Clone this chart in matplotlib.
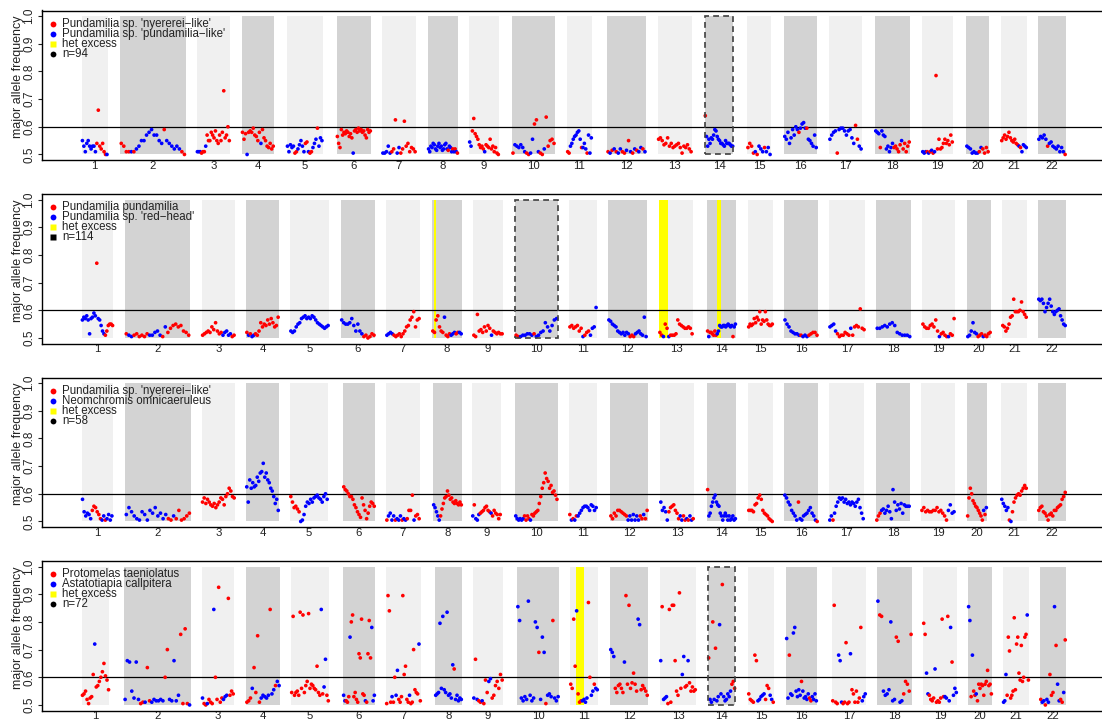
import numpy as np
import matplotlib
matplotlib.use("Agg")
import matplotlib.pyplot as plt
from matplotlib.patches import Rectangle

plt.rcParams["font.family"] = ["Liberation Sans", "DejaVu Sans"]

RED = "#FF0000"
BLUE = "#0000FF"
LIGHT = "#F0F0F0"
DARK = "#D3D3D3"
YELLOW = "#FFFF00"

CHROMS = [str(i) for i in range(1, 23)]

# ── chromosome extents (cumulative plot position) per panel ────────────────
P1_START = [81.7, 120, 196.7, 241.7, 286.7, 336.7, 382, 428, 469, 512, 567, 607, 657.7, 704.7, 747, 784, 829, 875, 922, 966, 1001, 1038]
P1_END = [107.7, 185.7, 230, 274, 322.7, 371, 416, 458, 499, 555, 592, 646, 692, 733.3, 771, 817, 862, 910, 953, 989, 1027, 1066]
P2_START = [81.7, 125, 201.7, 246, 290, 340.7, 386, 432, 473, 515, 569, 608, 659, 707, 748, 784, 829, 876, 922, 967, 1002, 1038]
P2_END = [113.3, 190, 235, 279, 329, 375, 420, 462, 503, 557.7, 597, 647, 693, 736, 773, 818, 865, 911, 955, 991, 1027, 1066]
P3_START = [81.7, 125, 201.7, 246, 290, 343, 386, 433, 472, 515, 569, 610, 660, 707, 748, 784, 829, 876, 921, 967, 1001, 1038]
P3_END = [112.7, 190.7, 235, 279, 328, 375, 420, 462, 501, 557.7, 597, 648, 694, 736, 773, 818, 864, 910, 955, 987, 1027, 1066]
P4_START = [81.7, 124, 201.7, 246, 291, 343, 386, 435, 473, 517, 570, 610, 660, 708, 748, 786, 832, 877, 923, 968, 1003, 1040]
P4_END = [109.3, 190.7, 234, 280, 329, 375, 421, 462, 503, 559, 598, 648, 696, 735.3, 774, 817, 866, 912, 957, 992, 1029, 1066]

# ── major allele frequency (x100) per window, in chromosome order ──────────
# colour string: r = first species, b = second species
P1_Y = [
    [55, 53, 51, 54, 55, 53, 52, 53, 53, 51, 54, 66, 53, 52, 54, 51, 50, 50],
    [54, 53, 51, 51, 51, 51, 52, 53, 55, 55, 57, 58, 59, 57, 57, 55, 54, 59, 55, 54, 53, 52, 53, 52, 51, 50],
    [51, 51, 51, 50.5, 51, 51, 53, 57, 55, 55, 58, 57, 56, 58.5, 55, 54, 57, 55, 58, 73, 56, 57, 60, 55],
    [58, 55.5, 57.5, 50, 58, 58.5, 58, 59.5, 57, 56.5, 55, 58, 54, 59, 56, 55, 53, 52.5, 54, 52, 53],
    [53, 51, 53.5, 52.5, 53, 50.5, 51, 52, 53.5, 55, 53, 51, 54, 54.5, 51, 50.5, 51, 52.5, 54, 55.5, 59.5, 53, 56, 55],
    [56.5, 54, 52.5, 59, 57, 58, 57.5, 58.5, 58, 56.5, 57.5, 56, 50.5, 58.5, 59, 58, 59.5, 58.5, 59, 58, 58.5, 57, 56, 59, 58, 58.5],
    [50.5, 50.5, 51, 53, 50.5, 51, 52, 62.5, 50.5, 52.5, 50.5, 52, 62, 53, 54, 51, 52.5, 52, 51],
    [52, 51, 53, 52.5, 54, 53.5, 52, 51.5, 53, 54, 52.5, 53, 51.5, 52, 53.5, 54, 52, 51.5, 53, 52.5, 51, 52, 51, 52, 51, 50.5],
    [54.5, 53, 58.5, 63, 57.5, 56.5, 55.5, 53.5, 52.5, 53, 52, 51, 53.5, 53, 52.5, 55.5, 52, 53, 51, 52.5, 50.5, 50],
    [50.5, 53.5, 53, 52.5, 53.5, 52.5, 51, 50.5, 50, 50.5, 55.5, 61, 62.5, 51, 50.5, 50, 52, 63.5, 53, 55, 55.5, 54],
    [51, 50.5, 53, 54, 55.5, 56.5, 57, 58, 58.5, 55.5, 52.5, 52.5, 54, 52, 50.5, 57, 50.5, 56],
    [51, 50.5, 51.5, 52, 51, 50.5, 52, 51, 50.5, 51.5, 55, 51, 50.5, 52, 51.5, 51, 52.5, 52, 51],
    [55.5, 56, 55, 53.5, 54, 56, 53, 54, 52.5, 53, 53.5, 54, 52.5, 50.5, 53, 52.5, 53.5, 52, 51],
    [64, 56.5, 53, 55.5, 54, 56, 55.5, 57, 59, 58.5, 56.5, 55.5, 55, 54, 54, 53.5, 53, 55, 54, 54, 54, 53.5, 53, 53],
    [52.5, 54, 53, 50.5, 51, 50, 53, 52, 51, 52.5, 51, 52.5, 50],
    [56.5, 55.5, 58, 54, 56, 59, 57, 60, 59, 58, 59.5, 61, 61.5, 59.5, 59.5, 55.5, 55, 54, 53, 57, 52.5],
    [55.5, 57, 58, 58.5, 50.5, 59, 59.5, 59.5, 58.5, 57, 58.5, 59, 56, 54, 60.5, 55.5, 53, 52],
    [58.5, 58, 57.5, 52.5, 58.5, 57, 56.5, 52, 53, 51, 52.5, 54, 52.5, 53, 52, 51, 53.5, 55, 52, 54, 51, 53, 54.5],
    [51, 50.5, 51, 51, 50.5, 51, 51.5, 50.5, 51, 78.5, 52, 55.5, 52, 52.5, 54, 55.5, 54, 55, 53.5, 57, 54.5],
    [53, 52.5, 52, 50.5, 51, 50.5, 50.5, 51, 52.5, 52, 50.5, 52.5, 51],
    [55, 56, 57, 55.5, 56.5, 58, 56, 55, 54.5, 55.5, 54, 53.5, 53, 52.5, 51, 53.5, 53, 52.5],
    [55.5, 56.5, 56, 57, 55.5, 53, 54, 54.5, 53, 52.5, 52, 53, 51, 52.5, 51, 50],
]
P1_C = [
    "bbbbbbbbbbrrrrrrrb", "rrrrbrbbbbbbbbbbbrbbbbbbrr", "bbbrrrb" + "r" * 17, "rrrbrrrrrrrrbrrrrrrrr",
    "bbbbbrrbbbbbrrbrrbbbrbbb", "r" * 12 + "b" + "r" * 13, "bbbbbrrrbbrrrrrrrrr", "b" * 17 + "rbbbrbrbr",
    "bb" + "r" * 9 + "b" + "r" * 10, "rbbbbbbrrbbrrbrrbrrrrr", "rrbbbbbbbbrbbbrbbb", "rbrbrbbrrbrbrbrbbrb",
    "r" * 19, "r" + "b" * 23, "rrrrbrbbbrbbb", "b" * 9 + "r" + "b" * 4 + "r" + "b" * 6,
    "bbbbr" + "b" * 9 + "rrbb", "bbbr" + "b" * 8 + "r" * 5 + "b" + "r" * 5, "bbbrbrbrb" + "r" * 12,
    "bbbbbbbrbrrrr", "r" * 12 + "brbbbb", "bbbbbr" + "b" * 9 + "r",
]

P2_Y = [
    [56.5, 57.5, 57, 58, 56.5, 51.5, 57, 57.5, 59, 58, 77, 57, 56.5, 54.5, 52.5, 51.5, 51, 52.5, 54.5, 55, 55, 54.5],
    [51.5, 51, 50.5, 51, 51.5, 50.5, 51, 50.5, 51.5, 51, 51, 52, 52.5, 51, 50.5, 54, 52, 53.5, 54.5, 55, 54, 54.5, 52.5, 52, 51],
    [51, 51.5, 52, 52.5, 52, 54, 53, 55.5, 52.5, 51.5, 52, 51, 52, 52.5, 51, 51.5, 50.5, 51],
    [52, 51, 51.5, 50.5, 51, 51.5, 51, 52.5, 55.5, 54, 55, 54.5, 56.5, 55, 57, 55.5, 54, 54.5, 57.5],
    [52.5, 52, 52.5, 54, 55, 55.5, 57, 57.5, 58, 57, 57.5, 57, 58, 57.5, 56.5, 55.5, 55, 54.5, 54, 53.5, 54, 54.5],
    [56.5, 55.5, 55, 55, 55.5, 57, 54.5, 52.5, 55, 52.5, 51.5, 50.5, 51, 50, 50.5, 51.5, 51],
    [51, 51.5, 52, 51.5, 51, 50.5, 51, 51.5, 50.5, 51.5, 52.5, 54, 54.5, 56.5, 57.5, 59.5, 54, 56.5, 57],
    [52.5, 52, 56.5, 58, 54, 52.5, 52, 57.5, 51, 50.5, 51.5, 51, 51.5, 52, 51.5, 52, 52, 51.5],
    [51, 50.5, 58.5, 52.5, 53, 52, 54, 52.5, 54.5, 53.5, 51, 52.5, 52, 51.5, 52, 51.5, 51.5],
    [51, 50.5, 50.5, 51, 51, 51.5, 51.5, 51, 51.5, 50.5, 51, 52, 52.5, 55.5, 54, 52.5, 54.5, 56.5, 57],
    [54, 54.5, 53.5, 54, 54.5, 52.5, 53.5, 50.5, 51, 52, 52.5, 51, 53.5, 54, 61],
    [56.5, 56, 55, 54.5, 54, 52.5, 52, 51.5, 52, 51, 52, 51.5, 50.5, 51, 50.5, 51.5, 52, 52.5, 51.5, 51, 57.5, 50.5],
    [52, 51, 50.5, 55, 53.5, 50.5, 51, 51, 51, 51.5, 56.5, 55, 54.5, 54, 53.5, 53.5, 54, 53.5, 51.5],
    [52.5, 50.5, 52, 52, 51.5, 51, 52.5, 51, 51.5, 52.5, 54.5, 54, 54, 54.5, 54.5, 54, 54.5, 55, 54.5, 54, 54.5, 50.5, 54, 55],
    [54, 55, 54.5, 55, 57, 55.5, 57.5, 56.5, 59.5, 55, 56.5, 56, 59.5, 56.5, 55, 54.5, 54.5, 55],
    [56.5, 55, 54, 52.5, 52, 51.5, 51.5, 51, 51, 50.5, 51, 50.5, 51, 51.5, 52, 52, 51],
    [54, 54.5, 55, 52.5, 51.5, 50.5, 51, 51, 52, 51.5, 51, 53.5, 51, 54, 54.5, 54, 60.5, 53.5, 53],
    [53.5, 53.5, 54, 54.5, 54, 55, 55.5, 54.5, 52, 51.5, 51, 51, 51, 50.5],
    [55, 54, 53.5, 53.5, 54.5, 55, 54, 56.5, 52.5, 50.5, 51.5, 52, 51, 50.5, 50.5, 51.5, 51, 57],
    [50.5, 51, 52.5, 55.5, 52, 51.5, 50.5, 51, 51.5, 50.5, 51, 50.5, 51.5, 52],
    [54.5, 54, 52.5, 53.5, 55, 57.5, 58, 64, 59.5, 59.5, 59.5, 60, 63, 59.5, 58.5, 57.5],
    [64, 63.5, 64, 62.5, 59.5, 61, 62.5, 64, 61.5, 59.5, 58.5, 59.5, 60, 60.5, 58, 56.5, 55, 54.5],
]
P2_C = [
    "b" * 10 + "r" + "b" * 5 + "r" * 6, "rbb" + "r" * 6 + "b" * 5 + "rb" + "r" * 9, "r" * 11 + "b" * 5 + "rr",
    "rbrbb" + "r" * 14, "b" * 22, "b" * 11 + "r" * 6, "b" * 4 + "r" * 15, "rrrrrrrbrrrbbbrrbb",
    "r" * 10 + "b" + "r" * 6, "rrbbbbbbrbbbbbbbbbb", "rrrrrrrbrrrbbbb", "b" * 12 + "rrr" + "b" * 7,
    "rrbrrb" + "r" * 13, "rb" + "r" * 6 + "b" * 13 + "r" + "bb", "r" * 18, "b" * 8 + "r" + "bbb" + "r" * 5,
    "bbbb" + "r" * 7 + "b" + "r" * 7, "b" * 14, "r" * 9 + "b" + "r" * 4 + "b" + "rrr", "b" * 6 + "rrrb" + "rrrr",
    "r" * 16, "b" * 18,
]

P3_Y = [
    [58, 53.5, 52, 53, 52.5, 51, 54, 55.5, 55, 53.5, 52.5, 51, 50.5, 52, 50.5, 51, 52.5, 50.5, 52],
    [52.5, 55, 53.5, 52, 51, 50.5, 53.5, 52.5, 50.5, 54, 53, 55, 52, 53, 51, 52.5, 51, 50.5, 52, 51, 54, 50.5, 51, 52, 53],
    [57, 58.5, 56.5, 58, 57, 56, 55.5, 56.5, 55, 56, 57, 58.5, 58, 56, 59, 60, 62, 61, 59, 58.5],
    [62.5, 57, 65, 62, 64, 62.5, 63, 66, 64.5, 67.5, 68, 71, 66, 67.5, 65, 64, 62, 61, 59, 56.5, 58, 54],
    [59, 57, 55, 55.5, 54.5, 53.5, 50, 50.5, 52.5, 55.5, 57, 56.5, 58, 57, 58.5, 59, 59.5, 58.5, 58, 57, 59, 60, 58],
    [62.5, 61.5, 61, 60, 59, 59, 58, 56, 55, 53.5, 52.5, 51.5, 58.5, 56, 54, 51, 53, 55.5, 57, 56.5, 55.5],
    [50.5, 52, 53, 50.5, 52, 50.5, 51, 50.5, 52, 50.5, 51, 50.5, 51, 54, 54, 59.5, 50.5, 52, 52.5, 51],
    [56, 55, 53.5, 52, 50.5, 52, 54.5, 56.5, 58.5, 59, 61, 59.5, 58, 58.5, 57, 56.5, 57.5, 56.5, 56, 57, 56],
    [52, 56, 51, 50.5, 52.5, 53, 53.5, 54, 55, 55.5, 54, 53.5, 53, 52, 54, 53, 52.5, 51, 52.5],
    [52, 51, 50.5, 51, 50.5, 51, 52, 50.5, 52, 51, 50.5, 52.5, 52, 53, 53.5, 54, 56.5, 59, 62, 64, 67.5, 65.5, 64.5, 62, 63, 60.5, 61, 59.5, 58],
    [52.5, 50.5, 51, 50.5, 52, 52, 53, 54, 55, 55.5, 55.5, 55, 54, 56, 55.5, 54, 55],
    [52, 51, 53, 52, 54, 54, 53.5, 53, 52.5, 52, 50.5, 52, 50.5, 52.5, 50.5, 52, 50.5, 52, 51, 52.5, 51, 54],
    [57, 54, 55, 53.5, 50.5, 53.5, 55, 55.5, 56, 54, 53, 51, 52, 50.5, 52, 50.5, 51, 50.5, 52, 50.5, 51],
    [61.5, 52, 53, 55.5, 57, 58.5, 59.5, 57, 56, 55.5, 53, 52, 50.5, 52, 53, 52, 50.5, 52, 50.5, 51, 52, 50.5, 51],
    [54, 54, 54, 53.5, 56, 56.5, 58.5, 59.5, 58, 54, 53, 52.5, 52, 51, 50.5, 50],
    [59.5, 58.5, 57, 56, 54, 53, 52, 50.5, 57, 51, 50.5, 52, 52.5, 53, 54, 55, 53, 52, 50.5, 50],
    [50.5, 52, 50.5, 53, 55.5, 57, 58.5, 58, 58.5, 57, 58, 56.5, 57, 56, 57, 56.5, 55.5, 57, 58, 55, 53, 51],
    [50.5, 52, 53, 54, 54.5, 53, 54, 55.5, 53.5, 51, 61.5, 57, 54, 56, 54.5, 56.5, 53, 56, 55.5, 55.5, 55.5],
    [54, 55, 53.5, 54, 53.5, 53.5, 54, 54, 55, 53.5, 54, 53, 52, 50.5, 54, 56, 53, 53.5],
    [52, 58.5, 62, 60, 57.5, 56.5, 55.5, 55, 54, 53, 52, 50.5, 54, 52.5, 55],
    [58, 56.5, 55.5, 54, 55, 50.5, 50, 53.5, 57, 58.5, 59.5, 60, 59.5, 61, 62, 63, 62],
    [54, 55, 55.5, 53.5, 53, 52, 50.5, 52.5, 53, 52, 54, 54, 55, 55.5, 56, 58, 59, 60.5],
]
P3_C = [
    "b" * 6 + "r" * 6 + "bbrbbbb", "b" * 16 + "rrb" + "r" * 6, "r" * 20, "b" * 22, "r" * 6 + "b" * 17,
    "r" * 21, "rbbbbrbbbrbbrrrrbrrr", "b" * 5 + "r" * 16, "brbbb" + "r" * 7 + "b" + "r" * 6,
    "b" * 6 + "r" * 4 + "b" + "r" * 18, "rbrbr" + "b" * 12, "r" * 10 + "b" * 7 + "rrbrr",
    "bbbbb" + "r" * 7 + "bbrrbrbbr", "r" + "b" * 22, "r" * 16, "b" * 8 + "r" + "b" * 10 + "r",
    "bbr" + "b" * 19, "rrr" + "b" * 18, "r" * 14 + "bbbb", "r" * 12 + "brb", "bbbbbrb" + "r" * 10, "r" * 18,
]

P4_Y = [
    [53.5, 54, 55, 52, 50.5, 52.5, 53, 61, 72, 56.5, 57, 58.5, 60, 62, 65, 60.5, 59, 55.5],
    [52, 66, 65.5, 55, 52.5, 65.5, 52, 50.5, 51, 51, 63.5, 51.5, 51, 52, 51.5, 51.5, 52, 51.5, 60, 70, 52, 51.5, 66, 51.5, 53.5, 75.5, 50.5, 77.5, 50.5, 50],
    [52.5, 50.5, 50, 50.5, 52, 51, 50.5, 84.5, 60, 52, 92.5, 51, 52.5, 52, 53, 53.5, 88.5, 53.5, 55, 54],
    [51, 51.5, 52.5, 56, 63.5, 54.5, 75, 51, 52.5, 53.5, 53, 52.5, 53.5, 84.5, 54, 55.5, 57, 58.5, 57],
    [54.5, 82, 53.5, 54.5, 55, 53.5, 83.5, 56, 82.5, 54.5, 57, 58.5, 83, 56, 57.5, 57, 56, 55.5, 64, 54.5, 53.5, 84.5, 54, 56.5, 66.5, 53.5, 51.5],
    [53.5, 51.5, 51.5, 51, 53, 74.5, 80, 82.5, 53, 54.5, 52, 51, 68.5, 67, 81, 54, 53.5, 51.5, 51, 68.5, 80.5, 67, 78, 51.5, 53.5],
    [50.5, 89.5, 84, 51, 53, 51, 60, 53.5, 62.5, 52, 51, 53, 89.5, 61, 64, 52, 51, 53.5, 50.5, 51, 70, 55.5, 54.5, 54, 72, 51.5],
    [53.5, 54, 54.5, 79.5, 56, 82, 55.5, 54.5, 83.5, 53.5, 54, 52.5, 64.5, 63, 52, 53.5, 51.5, 52.5, 52],
    [52.5, 66.5, 52, 51.5, 51, 51.5, 50.5, 59, 54.5, 58.5, 59.5, 52.5, 53.5, 57, 58.5, 56, 61, 59],
    [85.5, 80.5, 52.5, 51.5, 53, 52, 87.5, 53.5, 51.5, 52.5, 80, 78, 69, 52, 74.5, 69, 50.5, 53.5, 54, 53, 80.5, 52.5, 51.5, 53],
    [57.5, 56, 81, 64, 84, 54, 51, 51.5, 51.5, 52, 51, 52.5, 87, 60, 53.5, 55, 57.5, 56, 55.5],
    [70, 69, 67.5, 56, 54.5, 57, 57.5, 56, 54.5, 65.5, 89.5, 57.5, 86, 56, 58, 61.5, 57.5, 55, 81, 79, 55.5, 57, 56, 55, 53.5],
    [66, 85.5, 52, 52.5, 53, 50.5, 84.5, 51, 86, 86, 66, 55, 53.5, 90.5, 56, 61, 67.5, 56.5, 57, 66, 58, 55, 56.5, 55, 55.5],
    [67, 52, 51, 80, 52, 70.5, 51.5, 53, 79, 54, 93.5, 53, 51.5, 52, 54, 53, 55, 57.5, 58.5, 56],
    [54, 52, 51.5, 51, 68, 66, 51.5, 52, 53, 53.5, 54, 52, 57, 56, 53.5, 52, 51],
    [74, 52.5, 68, 54, 53.5, 76, 78, 55, 53, 55.5, 53.5, 58.5, 55, 52.5, 53, 52, 54, 52.5, 51.5, 53, 52, 54, 51.5],
    [51.5, 86, 51, 50.5, 68, 66, 51, 50.5, 51, 72.5, 50.5, 51, 68.5, 55.5, 54, 51, 55, 51, 52.5, 78, 51.5, 53, 54],
    [87.5, 82.5, 82, 55, 53.5, 54, 55.5, 80, 51.5, 52, 74.5, 73, 51, 51.5, 54, 58.5, 57.5, 55, 75.5],
    [79.5, 75.5, 61.5, 54, 53.5, 52, 51.5, 52.5, 63, 51, 51.5, 51, 52.5, 81, 53, 53, 52.5, 82, 51.5, 78, 65.5, 53.5, 56, 54.5],
    [85.5, 80.5, 53, 68, 55, 53.5, 54, 51.5, 57.5, 56, 57.5, 57, 53.5, 57.5, 58.5, 62.5, 57, 57.5, 54],
    [51, 51.5, 61, 53.5, 74.5, 69.5, 52.5, 53.5, 55, 81.5, 55.5, 72, 74.5, 61.5, 59, 71.5, 58.5, 60, 74.5, 75.5, 82.5, 59],
    [52, 51, 51.5, 50, 52, 51, 61, 53.5, 54.5, 85.5, 71.5, 57.5, 51.5, 52, 51, 54.5, 73.5],
]
P4_C = [
    "r" * 8 + "b" + "r" * 9, "bbbbbbbrrbrrbbbbbbrrbbbbbrrrrb", "brrbrrrbrrrrrbbbrrrr", "rrrbrrrrbbbbbrbbrbb",
    "r" * 21 + "brbbrr", "bbrrrbrrrrrrrrrrrbrrrrbbb", "rrrrbrrbbrrrrrrrrbrrrrrrbr", "b" * 13 + "r" + "b" * 5,
    "brbrrbrrrbb" + "r" * 7, "b" * 12 + "r" + "bbb" + "r" + "bbb" + "r" + "bbb", "rrrrbrrrbbbbrrbbrbb",
    "bbb" + "r" * 6 + "b" + "r" * 8 + "bb" + "r" * 5, "brbbb" + "r" * 10 + "bbrrb" + "r" * 5,
    "rbbrbrbbbbrbbbbbbrrr", "r" * 6 + "b" * 5 + "rrr" + "bb" + "r", "bbr" + "b" * 8 + "r" + "b" * 5 + "rr" + "b" * 4,
    "rrrrbbbrrrrrbrrrrrrrbbb", "brrbbbbbbbrrbbrrrrr", "rrbbrrrrbrrrrrrbbrbbrbbb", "bbrbrrbr" + "r" * 11,
    "bbb" + "r" * 17 + "br", "rbbrbbrrrbrbbrrbr",
]

# ── panel annotations ───────────────────────────────────────────────────────
SPECIES_A = ["Pundamilia sp. 'nyererei\u2212like'", "Pundamilia pundamilia",
             "Pundamilia sp. 'nyererei\u2212like'", "Protomelas taeniolatus"]
SPECIES_B = ["Pundamilia sp. 'pundamilia\u2212like'", "Pundamilia sp. 'red\u2212head'",
             "Neomchromis omnicaeruleus", "Astatotiapia callpitera"]
N_LABEL = ["n=94", "n=114", "n=58", "n=72"]
N_MARKER = ["o", "s", "o", "o"]
HIGHLIGHT = [14, 10, None, 14]
HET_EXCESS = [[], [(434, 436), (659, 668), (717, 721)], [], [(576, 584)]]

PANELS = [
    (P1_START, P1_END, P1_Y, P1_C),
    (P2_START, P2_END, P2_Y, P2_C),
    (P3_START, P3_END, P3_Y, P3_C),
    (P4_START, P4_END, P4_Y, P4_C),
]

W, H = 1102, 724
TOPS = [10.5, 194, 377.5, 561]
PH = 149.5

fig = plt.figure(figsize=(W / 100, H / 100), dpi=100)


def figxy(px, py):
    return px / W, 1 - py / H


for k, (starts, ends, ys, cs) in enumerate(PANELS):
    top = TOPS[k]
    ax = fig.add_axes([42 / W, 1 - (top + PH) / H, 1064 / W, PH / H])
    ax.set_xlim(42, 1106)
    ax.set_ylim(0.48, 1.02)

    # chromosome blocks
    for i, (s, e) in enumerate(zip(starts, ends)):
        ax.add_patch(Rectangle((s, 0.5), e - s, 0.5, fc=LIGHT if i % 2 == 0 else DARK,
                               ec="none", zorder=0))
    for a, b in HET_EXCESS[k]:
        ax.add_patch(Rectangle((a, 0.5), b - a, 0.5, fc=YELLOW, ec="none", zorder=1))

    ax.axhline(0.6, color="black", lw=0.9, zorder=2)

    # points
    for i, (s, e) in enumerate(zip(starts, ends)):
        yv = np.array(ys[i]) / 100.0
        n = len(yv)
        xv = s + (e - s) * (np.arange(n) + 0.5) / n
        col = [RED if (cs[i][j] if j < len(cs[i]) else cs[i][-1]) == "r" else BLUE for j in range(n)]
        ax.scatter(xv, yv, s=7, c=col, marker="o", linewidths=0, zorder=3)

    if HIGHLIGHT[k] is not None:
        h = HIGHLIGHT[k] - 1
        ax.add_patch(Rectangle((starts[h], 0.5), ends[h] - starts[h], 0.5, fill=False,
                               ls=(0, (3.5, 2.5)), lw=1.2, ec="#404040", zorder=4))

    # axes styling
    ax.set_yticks([0.5, 0.6, 0.7, 0.8, 0.9, 1.0])
    ax.set_yticklabels(["0.5", "0.6", "0.7", "0.8", "0.9", "1.0"], rotation=90, va="center")
    centers = [(s + e) / 2 for s, e in zip(starts, ends)]
    ax.set_xticks(centers)
    ax.set_xticklabels(CHROMS)
    ax.tick_params(axis="y", length=3, width=0.8, pad=2, labelsize=8.5, colors="#222222")
    ax.tick_params(axis="x", length=0, pad=0.5, labelsize=8.2, colors="#222222")
    for sp in ax.spines.values():
        sp.set_linewidth(1.0)

    fig.text(*figxy(18.3, top + 66.5), "major allele frequency", rotation=90,
             ha="center", va="center", fontsize=9, color="#222222")

    # legend
    rows = [(SPECIES_A[k], RED, "o"), (SPECIES_B[k], BLUE, "o"),
            ("het excess", YELLOW, "s"), (N_LABEL[k], "black", N_MARKER[k])]
    for r, (lab, colr, mk) in enumerate(rows):
        yy = top + 13.2 + 10 * r
        ax.plot(*figxy(53, yy), marker=mk, ms=4.2, color=colr, mec="none",
                transform=fig.transFigure, clip_on=False, zorder=6)
        fig.text(*figxy(62.5, yy), lab, ha="left", va="center", fontsize=8.3, color="#222222")

fig.savefig("out.png", dpi=100)
